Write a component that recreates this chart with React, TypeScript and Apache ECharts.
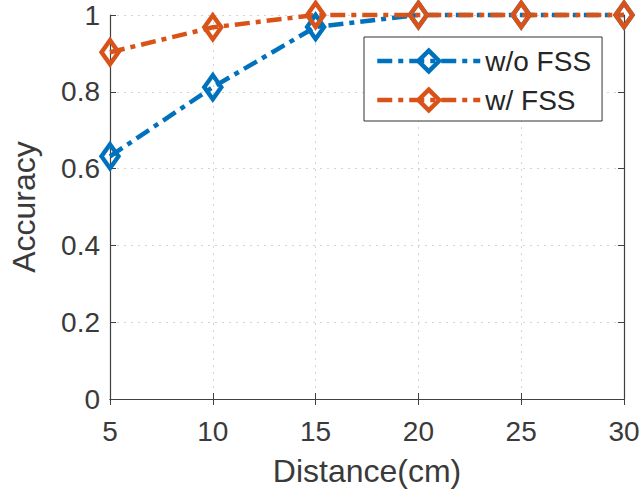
import React, { useEffect, useRef } from "react";
import * as echarts from "echarts";

const distances = [5, 10, 15, 20, 25, 30];
const withoutFSS = [0.632, 0.812, 0.969, 1, 1, 1];
const withFSS = [0.903, 0.968, 1, 1, 1, 1];
const seriesNames = ["w/o FSS", "w/ FSS"];
const xTickLabels = ["5", "10", "15", "20", "25", "30"];
const yTickLabels = ["0", "0.2", "0.4", "0.6", "0.8", "1"];

const FONT = "'Liberation Sans', Arial, Helvetica, sans-serif";
const AXIS_COLOR = "#404040";
const TEXT_COLOR = "#3a3a3a";
const BLUE = "#0072BD";
const ORANGE = "#D95319";
const DASH = [15, 6, 5, 6];

export default function App() {
  const ref = useRef<HTMLDivElement>(null);
  useEffect(() => {
    if (!ref.current) return;
    const chart = echarts.init(ref.current, undefined, { renderer: "svg" });
    const mkSeries = (name: string, data: number[], color: string) => ({
      name,
      type: "line",
      data: distances.map((d, i) => [d, data[i]]),
      clip: false,
      symbol: "diamond",
      symbolSize: [17, 24],
      lineStyle: { color, width: 4.5, type: DASH },
      itemStyle: { color: "rgba(255,255,255,0)", borderColor: color, borderWidth: 4.5 },
      emphasis: { disabled: true },
    });
    chart.setOption({
      animation: false,
      backgroundColor: "#ffffff",
      textStyle: { fontFamily: FONT },
      grid: { left: 107, right: 19, top: 15, bottom: 97 },
      legend: {
        data: seriesNames.map((n) => ({ name: n })),
        left: 364,
        top: 37,
        width: 239,
        orient: "vertical",
        padding: [10, 11, 7, 11],
        itemWidth: 103,
        itemHeight: 26,
        itemGap: 11,
        backgroundColor: "#ffffff",
        borderColor: "#333333",
        borderWidth: 1,
        borderRadius: 0,
        lineStyle: { width: 4.5, type: DASH },
        itemStyle: { borderWidth: 4.5 },
        textStyle: { fontSize: 28, color: "#262626", fontFamily: FONT },
      },
      xAxis: [
        {
          type: "value",
          min: 5,
          max: 30,
          interval: 5,
          name: "Distance(cm)",
          nameLocation: "middle",
          nameGap: 56,
          nameTextStyle: { fontSize: 32, color: TEXT_COLOR, fontFamily: FONT },
          axisLine: { show: true, lineStyle: { color: AXIS_COLOR, width: 1.2 } },
          axisTick: { show: true, inside: true, length: 6, lineStyle: { color: AXIS_COLOR } },
          axisLabel: {
            fontSize: 28,
            color: TEXT_COLOR,
            margin: 18,
            formatter: (v: number) => xTickLabels[distances.indexOf(v)] ?? String(v),
          },
          splitLine: { show: true, lineStyle: { color: "#d4d4d4", type: [2, 5], width: 1 } },
        },
        {
          type: "value",
          position: "top",
          min: 5,
          max: 30,
          interval: 5,
          axisLine: { show: true, lineStyle: { color: AXIS_COLOR, width: 1.2 } },
          axisTick: { show: true, inside: true, length: 6, lineStyle: { color: AXIS_COLOR } },
          axisLabel: { show: false },
          splitLine: { show: false },
        },
      ],
      yAxis: [
        {
          type: "value",
          min: 0,
          max: 1,
          interval: 0.2,
          name: "Accuracy",
          nameLocation: "middle",
          nameGap: 70,
          nameRotate: 90,
          nameTextStyle: { fontSize: 32, color: TEXT_COLOR, fontFamily: FONT },
          axisLine: { show: true, lineStyle: { color: AXIS_COLOR, width: 1.2 } },
          axisTick: { show: true, inside: true, length: 6, lineStyle: { color: AXIS_COLOR } },
          axisLabel: {
            fontSize: 28,
            color: TEXT_COLOR,
            margin: 10,
            formatter: (v: number) => yTickLabels[Math.round(v * 5)] ?? String(v),
          },
          splitLine: { show: true, lineStyle: { color: "#d4d4d4", type: [2, 5], width: 1 } },
        },
        {
          type: "value",
          position: "right",
          min: 0,
          max: 1,
          interval: 0.2,
          axisLine: { show: true, lineStyle: { color: AXIS_COLOR, width: 1.2 } },
          axisTick: { show: true, inside: true, length: 6, lineStyle: { color: AXIS_COLOR } },
          axisLabel: { show: false },
          splitLine: { show: false },
        },
      ],
      series: [
        mkSeries(seriesNames[0], withoutFSS, BLUE),
        mkSeries(seriesNames[1], withFSS, ORANGE),
      ],
    });
    return () => chart.dispose();
  }, []);
  return <div ref={ref} style={{ width: 643, height: 496, position: "absolute", left: 0, top: 0 }} />;
}
